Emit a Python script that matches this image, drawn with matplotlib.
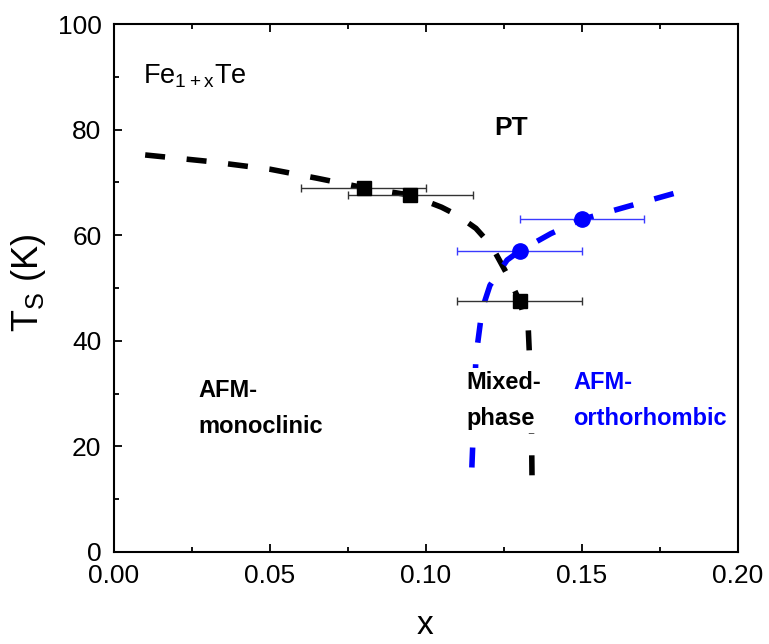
import matplotlib
matplotlib.use("Agg")
import matplotlib.pyplot as plt
from matplotlib.ticker import MultipleLocator, FormatStrFormatter

# data
sq_x = [0.08, 0.095, 0.13]
sq_y = [69.0, 67.6, 47.5]
sq_xerr = [0.02, 0.02, 0.02]

ci_x = [0.13, 0.15]
ci_y = [57.0, 63.0]
ci_xerr = [0.02, 0.02]

# guide-to-the-eye boundaries
black_x = [0.01, 0.03, 0.05, 0.065, 0.08, 0.095, 0.105, 0.11, 0.116, 0.121, 0.126, 0.13, 0.1328, 0.1337, 0.134]
black_y = [75.2, 74.0, 72.5, 70.8, 69.0, 67.6, 65.3, 63.8, 61.3, 58.0, 52.6, 47.5, 42.0, 30.0, 13.0]

blue_x = [0.1147, 0.1153, 0.116, 0.118, 0.1205, 0.126, 0.13, 0.14, 0.15, 0.165, 0.18]
blue_y = [16.0, 25.0, 37.0, 46.0, 50.5, 55.3, 57.0, 60.3, 63.0, 65.5, 68.0]

plt.rcParams['font.family'] = ['Liberation Sans', 'DejaVu Sans']
plt.rcParams['mathtext.default'] = 'regular'

fig = plt.figure(figsize=(7.69, 6.44), dpi=100)
ax = fig.add_axes([0.1482, 0.1429, 0.8115, 0.8198])

ax.plot(black_x, black_y, color='black', lw=4, dashes=(3.6, 3.9), zorder=2)
ax.plot(blue_x, blue_y, color='blue', lw=4, dashes=(3.6, 3.9), zorder=2)

ax.errorbar(sq_x, sq_y, xerr=sq_xerr, fmt='s', color='black', ms=10,
            ecolor='#333333', elinewidth=1.0, capsize=3.2, capthick=1.0, zorder=3)
ax.errorbar(ci_x, ci_y, xerr=ci_xerr, fmt='o', color='blue', ms=11,
            ecolor='#3a3aff', elinewidth=1.0, capsize=3.2, capthick=1.0, zorder=3)

ax.text(0.0093, 88.8, 'Fe$_{1+x}$Te', fontsize=19.5, va='baseline', ha='left')
ax.text(0.1272, 79.0, 'PT', fontsize=19, fontweight='bold', va='baseline', ha='center')
ax.text(0.0272, 27.2, 'AFM-\nmonoclinic', fontsize=17, fontweight='bold',
        va='center', ha='left', linespacing=1.75)
ax.text(0.1131, 28.7, 'Mixed-\nphase', fontsize=17, fontweight='bold',
        va='center', ha='left', linespacing=1.75, zorder=4,
        bbox=dict(facecolor='white', edgecolor='none', pad=2))
ax.text(0.1473, 28.7, 'AFM-\northorhombic', fontsize=17, fontweight='bold',
        color='blue', va='center', ha='left', linespacing=1.75)

ax.set_xlim(0, 0.2)
ax.set_ylim(0, 100)
ax.xaxis.set_major_locator(MultipleLocator(0.05))
ax.xaxis.set_minor_locator(MultipleLocator(0.025))
ax.xaxis.set_major_formatter(FormatStrFormatter('%.2f'))
ax.yaxis.set_major_locator(MultipleLocator(20))
ax.yaxis.set_minor_locator(MultipleLocator(10))

ax.tick_params(which='both', direction='in', top=True, right=False, width=1.3)
ax.tick_params(which='major', length=6, labelsize=19, pad=9)
ax.tick_params(which='minor', length=3.5)
for s in ax.spines.values():
    s.set_linewidth(1.5)

ax.set_xlabel('x', fontsize=24)
ax.set_ylabel('T$_S$ (K)', fontsize=26)
ax.xaxis.set_label_coords(0.498, -0.11)
ax.yaxis.set_label_coords(-0.105, 0.51)

fig.savefig('out.png', dpi=100)
